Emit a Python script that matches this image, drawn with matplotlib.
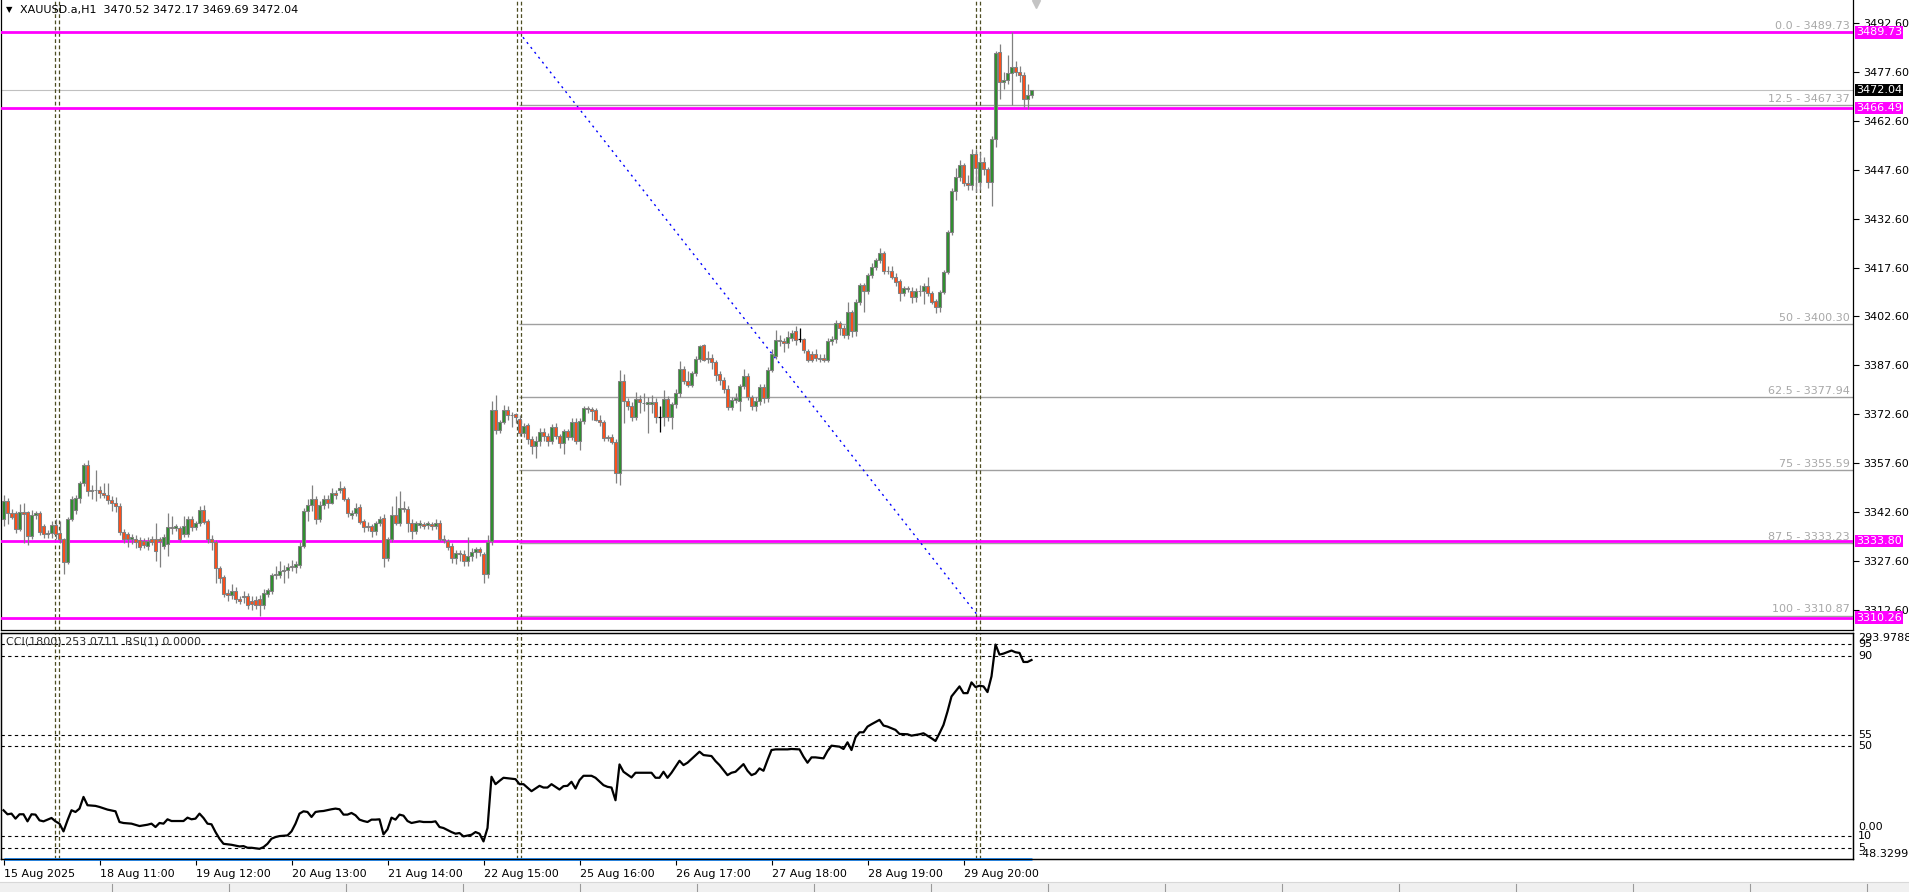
import numpy as np
import matplotlib
matplotlib.use("Agg")
import matplotlib.pyplot as plt
from matplotlib.transforms import blended_transform_factory
from matplotlib.patches import Rectangle

# ---------------- data ----------------
opens = [
    3340.4, 3346.0, 3342.4, 3342.4, 3337.4, 3342.6, 3342.6, 3335.3, 3341.6, 3342.2,
    3338.2, 3335.8, 3336.2, 3338.8, 3336.3, 3334.3, 3327.2, 3340.4, 3343.4, 3347.0,
    3351.6, 3357.1, 3349.0, 3349.3, 3349.5, 3348.6, 3348.0, 3346.3, 3345.3, 3344.4,
    3336.5, 3335.8, 3334.3, 3334.5, 3334.1, 3333.8, 3332.2, 3334.5, 3334.3, 3334.5,
    3332.3, 3332.8, 3337.9, 3337.6, 3337.6, 3335.8, 3335.8, 3340.6, 3337.9, 3339.3,
    3343.4, 3339.9, 3334.5, 3333.3, 3325.4, 3322.6, 3317.8, 3317.3, 3318.3, 3316.0,
    3316.5, 3316.8, 3315.5, 3315.8, 3316.0, 3314.0, 3317.6, 3318.3, 3323.2, 3323.2,
    3324.7, 3324.9, 3326.2, 3325.7, 3326.4, 3332.1, 3342.9, 3344.9, 3346.7, 3340.4,
    3344.9, 3346.7, 3345.5, 3348.5, 3349.5, 3350.0, 3346.7, 3341.6, 3342.4, 3344.3,
    3339.9, 3338.4, 3338.4, 3336.8, 3339.4, 3340.9, 3328.4, 3334.3, 3341.6, 3339.4,
    3343.9, 3343.7, 3339.4, 3336.8, 3338.7, 3338.9, 3338.7, 3338.9, 3338.4, 3339.4,
    3334.5, 3333.8, 3332.1, 3328.4, 3330.0, 3329.8, 3327.7, 3329.2, 3330.3, 3331.3,
    3329.8, 3323.7, 3333.8, 3373.8, 3367.7, 3370.2, 3374.0, 3372.5, 3372.6, 3371.3,
    3366.9, 3369.2, 3364.9, 3362.8, 3364.5, 3367.2, 3366.1, 3364.4, 3368.8, 3365.9,
    3363.8, 3367.4, 3365.7, 3370.3, 3364.4, 3370.7, 3374.4, 3374.1, 3373.8, 3371.0,
    3370.3, 3365.4, 3365.7, 3364.1, 3354.7, 3382.9, 3376.6, 3375.1, 3371.9, 3377.4,
    3376.2, 3375.9, 3375.9, 3376.5, 3371.8, 3371.8, 3377.4, 3371.8, 3375.9, 3379.2,
    3386.5, 3382.9, 3381.7, 3385.3, 3389.6, 3393.9, 3390.0, 3390.0, 3388.6, 3385.0,
    3383.0, 3380.4, 3374.9, 3377.1, 3376.6, 3381.4, 3384.5, 3377.8, 3375.3, 3376.6,
    3381.0, 3377.6, 3386.3, 3390.5, 3395.4, 3395.2, 3394.4, 3396.0, 3398.2, 3395.6,
    3395.6, 3392.0, 3391.1, 3391.0, 3390.0, 3390.0, 3389.3, 3395.2, 3395.7, 3400.5,
    3399.0, 3396.9, 3403.9, 3398.0, 3407.1, 3412.3, 3410.5, 3415.3, 3417.9, 3419.9,
    3422.2, 3416.6, 3416.6, 3414.8, 3413.5, 3409.7, 3411.2, 3410.5, 3408.7, 3410.5,
    3410.3, 3412.0, 3409.9, 3407.3, 3405.4, 3410.2, 3416.1, 3428.4, 3441.1, 3445.5,
    3449.0, 3443.4, 3442.9, 3452.4, 3443.9, 3450.1, 3447.7, 3443.7, 3456.9, 3483.6,
    3474.4, 3475.1, 3477.2, 3479.0, 3477.7, 3476.8, 3469.2, 3470.52,
]
highs = [
    3348.0, 3347.0, 3343.6, 3343.0, 3345.0, 3345.4, 3343.0, 3343.4, 3343.0, 3343.0,
    3339.0, 3337.2, 3340.0, 3340.5, 3340.0, 3334.8, 3341.0, 3347.5, 3348.0, 3352.2,
    3357.8, 3358.6, 3351.0, 3355.6, 3350.5, 3351.6, 3351.6, 3347.5, 3347.3, 3345.5,
    3337.5, 3336.5, 3336.0, 3335.5, 3335.0, 3334.6, 3335.0, 3335.3, 3339.4, 3335.0,
    3336.0, 3342.4, 3341.4, 3339.0, 3338.4, 3341.4, 3341.5, 3341.3, 3340.0, 3344.5,
    3344.9, 3340.5, 3335.5, 3334.0, 3326.0, 3323.2, 3319.0, 3320.5, 3319.6, 3316.8,
    3318.5, 3317.8, 3317.0, 3316.8, 3317.2, 3319.0, 3319.2, 3323.8, 3326.0, 3327.5,
    3326.5, 3327.0, 3328.0, 3327.5, 3333.5, 3344.0, 3346.5, 3351.0, 3347.5, 3346.0,
    3348.0, 3347.8, 3350.0, 3349.5, 3352.0, 3350.6, 3347.2, 3343.2, 3345.5, 3345.0,
    3340.5, 3339.5, 3339.0, 3340.0, 3341.5, 3342.0, 3335.0, 3344.5, 3347.5, 3349.0,
    3346.0, 3344.5, 3340.5, 3340.0, 3340.2, 3339.5, 3339.8, 3339.6, 3340.5, 3340.2,
    3335.5, 3334.5, 3333.0, 3331.0, 3331.0, 3331.0, 3335.0, 3331.5, 3332.0, 3332.0,
    3330.5, 3335.5, 3376.8, 3378.6, 3371.0, 3375.6, 3375.0, 3373.3, 3373.0, 3372.5,
    3370.0, 3370.0, 3366.0, 3366.0, 3368.5, 3368.5, 3367.0, 3369.5, 3370.0, 3366.5,
    3368.0, 3368.0, 3371.5, 3371.5, 3371.5, 3375.3, 3375.0, 3374.8, 3374.5, 3372.5,
    3371.0, 3366.2, 3366.5, 3365.0, 3386.3, 3385.0, 3377.5, 3376.5, 3379.5, 3378.5,
    3379.2, 3378.0, 3378.6, 3377.5, 3375.1, 3380.2, 3378.2, 3376.5, 3380.4, 3388.9,
    3387.5, 3385.8, 3386.0, 3390.5, 3394.0, 3394.3, 3392.0, 3391.0, 3389.3, 3386.0,
    3384.0, 3381.5, 3378.0, 3379.0, 3382.0, 3386.6, 3385.2, 3378.5, 3378.0, 3381.8,
    3382.0, 3387.0, 3392.5, 3398.4, 3397.0, 3396.0, 3398.0, 3398.5, 3399.8, 3399.0,
    3396.0, 3392.5, 3392.0, 3392.5, 3391.0, 3391.0, 3396.0, 3396.5, 3401.5, 3401.3,
    3400.0, 3407.0, 3404.5, 3408.0, 3413.0, 3413.0, 3416.0, 3419.0, 3420.5, 3423.5,
    3422.8, 3418.0, 3418.0, 3416.0, 3414.0, 3412.0, 3412.0, 3411.5, 3411.2, 3412.3,
    3413.0, 3414.8, 3410.5, 3408.0, 3410.8, 3417.0, 3429.0, 3442.0, 3448.2, 3450.6,
    3449.8, 3446.0, 3454.0, 3454.0, 3453.0, 3451.5, 3448.5, 3458.0, 3484.0, 3486.1,
    3477.5, 3482.8, 3489.73, 3480.8, 3479.5, 3477.5, 3473.8, 3472.17,
]
lows = [
    3338.3, 3339.0, 3340.5, 3336.3, 3336.8, 3333.2, 3332.5, 3334.3, 3340.6, 3335.6,
    3334.8, 3334.8, 3334.8, 3334.4, 3333.0, 3323.6, 3326.8, 3339.8, 3342.0, 3345.5,
    3350.5, 3347.5, 3346.5, 3345.9, 3347.0, 3346.8, 3345.0, 3343.0, 3342.5, 3335.5,
    3333.0, 3332.0, 3332.8, 3331.5, 3331.0, 3331.5, 3331.0, 3332.4, 3327.7, 3325.7,
    3331.3, 3329.2, 3336.0, 3336.8, 3333.5, 3335.0, 3335.0, 3336.9, 3337.0, 3338.5,
    3339.0, 3333.0, 3331.0, 3321.0, 3321.0, 3316.5, 3315.5, 3316.0, 3314.8, 3314.5,
    3314.8, 3313.0, 3312.5, 3313.0, 3310.87, 3313.0, 3316.5, 3317.5, 3322.0, 3322.5,
    3321.0, 3322.5, 3324.5, 3324.0, 3325.5, 3331.5, 3340.0, 3343.0, 3339.0, 3339.5,
    3343.5, 3344.0, 3345.0, 3346.5, 3348.5, 3346.0, 3341.0, 3340.5, 3341.5, 3339.0,
    3336.5, 3336.8, 3335.0, 3335.5, 3338.5, 3325.8, 3327.5, 3333.5, 3338.8, 3338.5,
    3342.5, 3336.5, 3334.5, 3336.0, 3337.6, 3337.5, 3337.4, 3337.2, 3337.5, 3333.8,
    3333.0, 3331.0, 3327.0, 3326.7, 3327.5, 3326.2, 3326.0, 3327.5, 3328.5, 3329.0,
    3320.9, 3322.5, 3332.5, 3366.5, 3366.8, 3369.5, 3371.0, 3368.6, 3370.0, 3365.9,
    3365.5, 3363.5, 3360.3, 3359.3, 3363.0, 3364.5, 3363.0, 3363.5, 3365.0, 3362.3,
    3360.5, 3364.6, 3364.8, 3363.5, 3361.8, 3369.5, 3373.0, 3371.0, 3370.5, 3369.0,
    3364.5, 3364.5, 3363.5, 3351.6, 3351.0, 3370.0, 3374.0, 3370.5, 3371.0, 3373.0,
    3373.5, 3366.9, 3373.0, 3369.8, 3367.1, 3369.0, 3370.5, 3368.0, 3374.5, 3378.0,
    3382.0, 3381.0, 3381.0, 3384.5, 3388.5, 3388.8, 3388.3, 3386.5, 3382.8, 3381.5,
    3379.0, 3373.8, 3373.8, 3376.0, 3373.5, 3380.5, 3377.0, 3374.0, 3373.5, 3375.5,
    3376.0, 3376.5, 3385.5, 3389.5, 3393.5, 3391.6, 3393.0, 3395.0, 3394.0, 3394.9,
    3391.5, 3388.5, 3388.6, 3388.8, 3388.6, 3388.5, 3388.5, 3394.0, 3394.5, 3396.8,
    3396.0, 3395.8, 3396.2, 3396.5, 3406.0, 3404.0, 3409.5, 3414.5, 3417.0, 3419.0,
    3415.5, 3415.5, 3414.0, 3412.0, 3407.3, 3409.0, 3410.0, 3406.8, 3407.0, 3409.0,
    3406.3, 3409.0, 3406.5, 3403.8, 3404.0, 3409.5, 3415.5, 3427.5, 3438.3, 3444.0,
    3442.5, 3441.3, 3441.5, 3440.9, 3441.5, 3446.0, 3441.9, 3436.5, 3454.6, 3469.2,
    3472.3, 3474.0, 3467.4, 3476.2, 3474.5, 3466.8, 3466.1, 3469.69,
]
closes = [
    3346.0, 3342.4, 3341.2, 3337.4, 3342.6, 3342.0, 3335.3, 3341.6, 3342.2, 3336.6,
    3335.8, 3336.2, 3338.8, 3335.8, 3334.3, 3327.2, 3340.4, 3346.5, 3347.0, 3351.6,
    3357.1, 3349.0, 3349.3, 3349.5, 3348.6, 3348.0, 3346.3, 3345.3, 3344.4, 3336.5,
    3334.3, 3334.3, 3335.0, 3333.3, 3331.8, 3332.5, 3333.8, 3333.3, 3330.8, 3333.8,
    3335.0, 3337.9, 3337.6, 3338.2, 3334.3, 3338.4, 3340.6, 3337.9, 3339.2, 3343.4,
    3339.6, 3334.5, 3333.3, 3325.4, 3322.4, 3317.6, 3317.3, 3318.3, 3316.0, 3315.5,
    3317.0, 3314.2, 3314.3, 3314.0, 3314.2, 3317.9, 3318.6, 3323.2, 3323.7, 3324.7,
    3324.9, 3325.7, 3325.7, 3326.7, 3332.3, 3342.9, 3344.9, 3346.7, 3340.4, 3344.9,
    3346.7, 3345.5, 3348.5, 3348.0, 3350.0, 3346.7, 3342.4, 3342.4, 3344.0, 3339.6,
    3337.9, 3338.0, 3336.8, 3339.4, 3340.6, 3328.4, 3334.3, 3341.6, 3339.4, 3343.9,
    3343.6, 3339.4, 3336.8, 3339.4, 3339.2, 3338.4, 3339.2, 3338.4, 3339.4, 3334.5,
    3334.2, 3331.8, 3328.4, 3330.0, 3329.8, 3327.7, 3329.2, 3330.3, 3331.3, 3330.3,
    3323.7, 3333.3, 3373.8, 3367.7, 3370.2, 3374.0, 3372.5, 3372.4, 3371.7, 3366.9,
    3369.0, 3364.9, 3362.8, 3364.5, 3367.2, 3365.9, 3364.4, 3368.8, 3365.9, 3363.8,
    3367.4, 3365.7, 3370.3, 3364.4, 3370.7, 3374.4, 3374.1, 3373.5, 3371.0, 3370.3,
    3365.4, 3365.7, 3364.1, 3354.7, 3382.9, 3376.6, 3375.1, 3371.9, 3377.4, 3376.3,
    3376.1, 3376.4, 3376.5, 3371.8, 3371.8, 3377.4, 3371.8, 3375.9, 3379.2, 3386.5,
    3382.9, 3381.7, 3385.3, 3389.6, 3393.5, 3389.4, 3389.7, 3388.6, 3384.8, 3383.0,
    3380.4, 3374.9, 3377.1, 3377.6, 3381.4, 3384.5, 3377.8, 3375.3, 3376.6, 3381.0,
    3377.6, 3386.3, 3391.0, 3395.4, 3395.0, 3394.4, 3396.2, 3397.4, 3395.4, 3395.6,
    3392.3, 3389.3, 3389.3, 3389.8, 3389.7, 3389.3, 3395.2, 3395.7, 3400.7, 3399.0,
    3396.9, 3403.9, 3398.0, 3407.1, 3412.3, 3410.5, 3415.3, 3417.9, 3419.9, 3422.2,
    3416.5, 3416.4, 3414.6, 3413.1, 3409.7, 3411.2, 3410.9, 3408.7, 3410.5, 3410.3,
    3412.0, 3409.9, 3407.1, 3405.4, 3410.2, 3416.1, 3428.4, 3441.1, 3445.5, 3449.0,
    3443.4, 3443.0, 3452.4, 3448.0, 3450.1, 3447.7, 3443.7, 3456.9, 3483.3, 3474.4,
    3475.1, 3477.2, 3479.0, 3477.7, 3476.8, 3469.2, 3470.5, 3472.04,
]

cci_bars = [
    0, 1, 2, 3, 4, 5, 6, 7, 8, 9, 10, 12, 13, 14, 15, 16, 17, 18, 19, 20,
    21, 23, 24, 26, 28, 29, 30, 32, 34, 36, 37, 38, 39, 40, 41, 42, 44, 45, 46, 47,
    48, 49, 50, 51, 52, 53, 54, 55, 57, 59, 60, 61, 62, 64, 65, 66, 67, 68, 69, 71,
    72, 73, 74, 75, 76, 77, 78, 79, 80, 82, 83, 84, 85, 86, 87, 88, 89, 90, 91, 92,
    93, 94, 95, 96, 97, 98, 99, 100, 101, 102, 104, 105, 107, 108, 109, 110, 112, 113, 114, 115,
    117, 118, 119, 120, 121, 122, 123, 124, 125, 128, 129, 130, 132, 134, 135, 136, 137, 139, 140, 141,
    142, 143, 144, 145, 147, 148, 150, 151, 152, 153, 154, 155, 157, 158, 161, 162, 163, 164, 165, 166,
    167, 169, 170, 171, 174, 175, 177, 178, 179, 181, 182, 183, 185, 186, 187, 188, 189, 190, 191, 192,
    193, 196, 197, 199, 200, 201, 202, 203, 205, 206, 207, 209, 210, 211, 212, 213, 214, 215, 216, 217,
    219, 220, 221, 223, 224, 226, 227, 229, 230, 232, 233, 234, 235, 236, 237, 238, 239, 240, 241, 242,
    243, 244, 245, 246, 247, 248, 249, 250, 252, 253, 254, 255, 256, 257,
]
cci_vals = [
    25.5, 19.4, 20.4, 12.8, 19.4, 19.4, 8.7, 19.4, 18.9, 10.2, 8.7, 13.8, 8.7, 5.2, -6.5, 10.2, 25.5, 22.9, 28.0, 45.7,
    33.1, 32.1, 30.5, 26.5, 23.9, 7.7, 6.2, 5.2, 1.6, 3.6, 5.2, 0.1, 6.2, 5.2, 11.8, 9.2, 9.2, 9.2, 14.3, 11.8,
    12.8, 20.4, 13.8, 5.2, 4.2, -7.5, -17.6, -25.3, -26.8, -29.3, -28.8, -31.3, -31.3, -32.9, -30.3, -25.3, -17.6, -15.1, -13.6, -12.6,
    -6.5, 5.2, 20.4, 23.9, 22.9, 15.3, 22.9, 23.9, 24.4, 27.0, 28.0, 27.0, 18.9, 18.9, 21.4, 17.9, 11.3, 9.2, 7.7, 11.3,
    11.3, 11.8, -11.0, -3.4, 14.3, 11.3, 18.9, 17.3, 9.2, 6.2, 8.7, 7.7, 7.7, 8.7, 0.1, -1.4, -7.5, -10.0, -9.0, -14.1,
    -11.6, -7.5, -10.0, -21.7, -1.4, 76.2, 65.0, 70.0, 74.7, 72.6, 65.0, 65.0, 54.4, 62.5, 59.9, 59.9, 65.0, 56.9, 62.0, 62.5,
    68.6, 58.4, 71.1, 77.7, 77.7, 74.7, 63.5, 61.0, 59.9, 40.7, 94.9, 83.8, 75.2, 82.3, 82.3, 82.3, 74.7, 74.7, 83.8, 74.7,
    82.3, 100.5, 93.9, 97.5, 114.2, 109.1, 107.6, 100.0, 93.9, 78.7, 82.3, 83.8, 95.4, 85.3, 78.7, 81.2, 88.9, 85.3, 101.5, 116.7,
    117.7, 117.7, 118.3, 117.7, 106.6, 97.5, 105.6, 105.6, 104.1, 115.2, 123.3, 121.8, 118.3, 128.4, 116.7, 136.0, 143.6, 143.6, 152.2, 155.8,
    162.4, 153.8, 152.2, 147.2, 141.1, 140.6, 138.5, 140.6, 142.1, 134.5, 130.4, 142.1, 154.8, 175.1, 197.9, 205.5, 213.1, 202.9, 202.9, 219.2,
    212.1, 214.1, 213.1, 204.5, 228.3, 276.5, 261.3, 262.8, 267.4, 264.8, 263.8, 250.1, 250.1, 253.07,
]
rsi_value = 0.0
cci_scale = (-48.3299, 293.9788)
rsi_levels = [95, 90, 55, 50, 10, 5]

time_tick_bars = [0, 24, 48, 72, 96, 120, 144, 168, 192, 216, 240]
time_labels = ["15 Aug 2025", "18 Aug 11:00", "19 Aug 12:00", "20 Aug 13:00", "21 Aug 14:00",
               "22 Aug 15:00", "25 Aug 16:00", "26 Aug 17:00", "27 Aug 18:00", "28 Aug 19:00",
               "29 Aug 20:00"]

week_starts = [13.4, 128.9, 243.6]
magenta_levels = [3489.73, 3466.49, 3333.80, 3310.26]
fib_names = ["0.0", "12.5", "50", "62.5", "75", "87.5", "100"]
fib_prices = [3489.73, 3467.37, 3400.30, 3377.94, 3355.59, 3333.23, 3310.87]
fib_start = (128.9, 3489.73)
fib_end = (243.6, 3310.87)
bid = 3472.04
header = "XAUUSD.a,H1  3470.52 3472.17 3469.69 3472.04"
ind_label = "CCI(1800) 253.0711  RSI(1) 0.0000"

# ---------------- layout (pixel based, MT4 look) ----------------
W, H = 1909, 892
fig = plt.figure(figsize=(W / 100, H / 100), dpi=100)
fig.patch.set_facecolor("white")

X0, X1 = -0.625, 462.375
ax = fig.add_axes([1 / W, 1 - 630 / H, 1852 / W, 630 / H])
ax2 = fig.add_axes([1 / W, 1 - 859 / H, 1852 / W, 226 / H])
ax3 = ax2.twinx()

GRAY = "#808080"
SEP = "#4d4d22"
FS = 8

# ---- main panel ----
o, h, l, c = (np.array(v) for v in (opens, highs, lows, closes))
x = np.arange(len(o))
up = c > o
dn = c < o
dj = c == o

ax.vlines(x[~dj], l[~dj], h[~dj], color=GRAY, lw=0.9, zorder=4)
ax.vlines(x[dj], l[dj], h[dj], color="black", lw=0.9, zorder=4)
blo = np.minimum(o, c)
bh = np.abs(c - o)
ax.bar(x[up], bh[up], bottom=blo[up], width=0.66, color="#2f8f2f",
       edgecolor=GRAY, linewidth=0.75, zorder=5)
ax.bar(x[dn], bh[dn], bottom=blo[dn], width=0.66, color="#ff4f1a",
       edgecolor=GRAY, linewidth=0.75, zorder=5)
ax.hlines(c[dj], x[dj] - 0.35, x[dj] + 0.35, color="black", lw=0.9, zorder=5)

# bid line
ax.axhline(bid, color="#c0c0c0", lw=0.8, zorder=1)

# fibo levels + labels
ax.hlines(fib_prices, fib_start[0], X1, color="#a0a0a0", lw=1.0, zorder=1)
for name, p in zip(fib_names, fib_prices):
    ax.text(461.6, p + 0.35, f"{name} - {p:.2f}", ha="right", va="bottom",
            color="#a8a8a8", fontsize=FS, zorder=2)
ax.plot([fib_start[0], fib_end[0]], [fib_start[1], fib_end[1]], color="#0000ff",
        ls=(0, (1.5, 3)), lw=1.0, zorder=2)

# magenta horizontal lines
for lv in magenta_levels:
    ax.axhline(lv, color="#ff00ff", lw=2.0, zorder=3)

# period separators (double dashed)
for s in week_starts:
    for d in (-0.42, 0.42):
        for a in (ax, ax2):
            a.axvline(s + d, color=SEP, ls=(0, (3, 2)), lw=0.9, zorder=2)

ax.set_xlim(X0, X1)
ax.set_ylim(3306.46, 3499.65)
ax.yaxis.tick_right()
price_ticks = np.arange(3312.6, 3493.0, 15.0)
ax.set_yticks(price_ticks)
ax.set_yticklabels([f"{v:.2f}" for v in price_ticks])
ax.tick_params(axis="y", direction="out", length=4, width=0.8, labelsize=FS, pad=3,
               colors="black")
ax.tick_params(axis="x", bottom=False, labelbottom=False)
ax.spines["top"].set_visible(False)
for sp in ("left", "right", "bottom"):
    ax.spines[sp].set_color("black")
    ax.spines[sp].set_linewidth(0.9)

# price tags on the axis
tr = blended_transform_factory(ax.transAxes, ax.transData)
for lv in magenta_levels:
    ax.text(1.0 + 3 / 1852, lv, f"{lv:.2f}", transform=tr, ha="left", va="center",
            color="white", fontsize=FS, clip_on=False, zorder=10,
            bbox=dict(boxstyle="square,pad=0.12", fc="#ff00ff", ec="none"))
ax.text(1.0 + 3 / 1852, bid, f"{bid:.2f}", transform=tr, ha="left", va="center",
        color="white", fontsize=FS, clip_on=False, zorder=10,
        bbox=dict(boxstyle="square,pad=0.12", fc="black", ec="none"))

# chart shift marker
ax.plot([258.1], [3498.5], marker="v", color="#c4c4c4", ms=6, clip_on=False, zorder=6)

# header
fig.text(6 / W, 1 - 10 / H, "\u25bc", fontsize=6, va="center", ha="left", color="black")
fig.text(20 / W, 1 - 10 / H, header, fontsize=FS, va="center", ha="left", color="black")

# ---- indicator panel ----
ax2.set_xlim(X0, X1)
ax2.set_ylim(0, 100)
for lv in rsi_levels:
    ax2.axhline(lv, color="black", ls=(0, (3, 3)), lw=0.8, zorder=1)
ax2.hlines(rsi_value, 0, len(o) - 1, color="#1e90ff", lw=2.0, zorder=6, clip_on=False)

ax3.set_ylim(*cci_scale)
ax3.plot(cci_bars, cci_vals, color="black", lw=1.6, zorder=5)
ax3.set_yticks([])
ax2.set_yticks([])

ax2.set_xticks(time_tick_bars)
ax2.set_xticklabels(time_labels, ha="left")
ax2.tick_params(axis="x", direction="out", length=4, width=0.8, labelsize=FS, pad=3)
for a in (ax2, ax3):
    for sp in a.spines.values():
        sp.set_color("black")
        sp.set_linewidth(0.9)

tr2 = blended_transform_factory(ax2.transAxes, ax2.transData)
for lv in rsi_levels:
    ax2.text(1.0 + 5 / 1852, lv, str(lv), transform=tr2, ha="left", va="center",
             fontsize=FS, clip_on=False)
tr3 = blended_transform_factory(ax3.transAxes, ax3.transData)
ax3.text(1.0 + 5 / 1852, cci_scale[1], f"{cci_scale[1]:.4f}", transform=tr3, ha="left",
         va="top", fontsize=FS, clip_on=False)
ax3.text(1.0 + 5 / 1852, 0.0, "0.00", transform=tr3, ha="left", va="center",
         fontsize=FS, clip_on=False)
ax3.text(1.0 + 5 / 1852, cci_scale[0], f"{cci_scale[0]:.4f}", transform=tr3, ha="left",
         va="bottom", fontsize=FS, clip_on=False)

fig.text(6 / W, 1 - 641 / H, ind_label, fontsize=FS, va="center", ha="left", color="#333333")

# bottom tab strip
fig.patches.append(Rectangle((0, 0), 1, 10 / H, transform=fig.transFigure,
                             fc="#f0f0f0", ec="none", zorder=0))
fig.lines.append(plt.Line2D([0, 1], [10 / H, 10 / H], transform=fig.transFigure,
                            color="#d8d8d8", lw=0.8))
for tx in np.arange(112, 1909, 117):
    fig.lines.append(plt.Line2D([tx / W, tx / W], [1 / H, 8 / H], transform=fig.transFigure,
                                color="#9a9a9a", lw=0.8))

fig.savefig("out.png", dpi=100)
